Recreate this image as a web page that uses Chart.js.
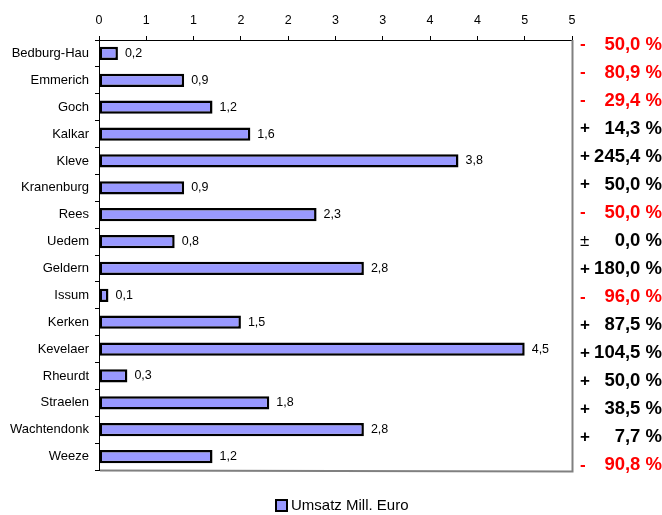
<!DOCTYPE html>
<html>
<head>
<meta charset="utf-8">
<script src="https://cdn.jsdelivr.net/npm/chart.js@4/dist/chart.umd.min.js"></script>
<style>
  html, body { margin: 0; padding: 0; background: #fff; }
  #wrap { width: 662px; height: 515px; position: relative; }
</style>
</head>
<body>
<div id="wrap"><canvas id="c" width="662" height="515"></canvas></div>
<script>
// Umsatz je Gemeinde (Mill. Euro) und Veränderung gegenüber Vorjahr (%)
const municipalities = ['Bedburg-Hau', 'Emmerich', 'Goch', 'Kalkar', 'Kleve', 'Kranenburg', 'Rees', 'Uedem',
  'Geldern', 'Issum', 'Kerken', 'Kevelaer', 'Rheurdt', 'Straelen', 'Wachtendonk', 'Weeze'];
const revenue = [0.2, 0.9, 1.2, 1.6, 3.8, 0.9, 2.3, 0.8, 2.8, 0.1, 1.5, 4.5, 0.3, 1.8, 2.8, 1.2];
const changePct = [-50.0, -80.9, -29.4, 14.3, 245.4, 50.0, -50.0, 0.0, 180.0, -96.0, 87.5, 104.5, 50.0, 38.5, 7.7, -90.8];
const seriesLabel = 'Umsatz Mill. Euro';
const axisMin = 0, axisMax = 5, axisStep = 0.5;

const FONT = '"Liberation Sans", Arial, Helvetica, sans-serif';
const BAR_FILL = '#9999FF';

const fmtDe = (v, d) => v.toFixed(d).replace('.', ',');

const annotations = {
  id: 'annotations',
  afterDatasetsDraw(chart) {
    const { ctx, chartArea } = chart;
    const meta = chart.getDatasetMeta(0);
    ctx.save();

    // value labels at the bar ends
    ctx.font = '12.5px ' + FONT;
    ctx.fillStyle = '#000';
    ctx.textAlign = 'left';
    ctx.textBaseline = 'middle';
    meta.data.forEach((bar, i) => {
      ctx.fillText(fmtDe(revenue[i], 1), bar.x + 7, bar.y);
    });

    // grey right and bottom frame of the plot area
    ctx.strokeStyle = '#808080';
    ctx.lineWidth = 2;
    ctx.beginPath();
    ctx.moveTo(chartArea.right + 0.5, chartArea.top);
    ctx.lineTo(chartArea.right + 0.5, chartArea.bottom + 1.5);
    ctx.lineTo(chartArea.left + 1, chartArea.bottom + 0.5);
    ctx.stroke();

    // percentage change column
    const top = 44.5, step = 28.05;
    changePct.forEach((p, i) => {
      const y = top + i * step;
      const neg = p < 0;
      const sign = p > 0 ? '+' : (p < 0 ? '-' : '\u00B1');
      ctx.fillStyle = neg ? '#FF0000' : '#000';
      ctx.textBaseline = 'middle';
      ctx.textAlign = 'left';
      ctx.font = (p === 0 ? '' : 'bold ') + '17px ' + FONT;
      ctx.fillText(sign, 580, y);
      ctx.textAlign = 'right';
      ctx.font = 'bold 18.5px ' + FONT;
      ctx.fillText(fmtDe(Math.abs(p), 1) + ' %', 662, y);
    });

    // legend
    const lx = 276, ly = 500, bs = 11;
    ctx.fillStyle = BAR_FILL;
    ctx.fillRect(lx, ly, bs, bs);
    ctx.strokeStyle = '#000';
    ctx.lineWidth = 2;
    ctx.strokeRect(lx, ly, bs, bs);
    ctx.fillStyle = '#000';
    ctx.font = '15px ' + FONT;
    ctx.textAlign = 'left';
    ctx.textBaseline = 'middle';
    ctx.fillText(seriesLabel, 291, 506);

    ctx.restore();
  }
};

new Chart(document.getElementById('c'), {
  type: 'bar',
  data: {
    labels: municipalities,
    datasets: [{
      label: seriesLabel,
      data: revenue,
      backgroundColor: BAR_FILL,
      borderColor: '#000',
      borderWidth: 2.5,
      borderSkipped: false,
      barPercentage: 0.49,
      categoryPercentage: 1
    }]
  },
  options: {
    indexAxis: 'y',
    responsive: false,
    animation: false,
    devicePixelRatio: 1,
    layout: { padding: { left: 0, right: 90, top: 0, bottom: 45 } },
    plugins: {
      legend: { display: false },
      tooltip: { enabled: false }
    },
    scales: {
      x: {
        position: 'top',
        min: axisMin,
        max: axisMax,
        afterFit: s => { s.height = 40; },
        ticks: {
          stepSize: axisStep,
          autoSkip: false,
          maxRotation: 0,
          padding: 8,
          color: '#000',
          font: { family: FONT, size: 12.5 },
          callback: v => String(Math.round(v))
        },
        grid: { drawOnChartArea: false, drawTicks: true, tickLength: 4, color: '#000' },
        border: { color: '#000', width: 1 }
      },
      y: {
        afterFit: s => { s.width = 99; },
        ticks: {
          autoSkip: false,
          padding: 6,
          color: '#000',
          font: { family: FONT, size: 13 }
        },
        grid: { drawOnChartArea: false, drawTicks: true, tickLength: 4, color: '#000', offset: true },
        border: { color: '#000', width: 1 }
      }
    }
  },
  plugins: [annotations]
});
</script>
</body>
</html>
